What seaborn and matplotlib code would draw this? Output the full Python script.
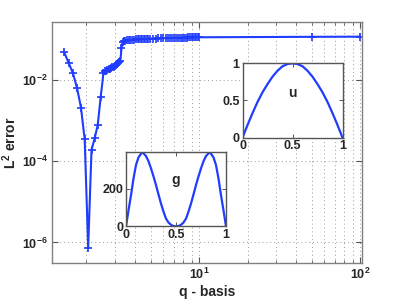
import numpy as np
import pandas as pd
import matplotlib
matplotlib.use("Agg")
import matplotlib.pyplot as plt
import matplotlib.ticker as mticker
import seaborn as sns

# main curve: L2 error against q
q_basis = [1.45, 1.55, 1.65, 1.75, 1.85, 1.95, 2.05, 2.15, 2.25, 2.35, 2.45,
           2.55, 2.60, 2.65, 2.70, 2.75, 2.80, 2.85, 2.90, 2.95, 3.00, 3.05,
           3.10, 3.15, 3.20, 3.25, 3.30, 3.35, 3.40,
           3.45, 3.55, 3.65, 3.75, 3.85, 3.95, 4.05, 4.15, 4.25, 4.35, 4.45,
           4.55, 4.65, 4.75, 4.85, 4.95,
           5.2, 5.4, 5.6, 5.8, 6.0, 6.2, 6.4, 6.6, 6.8, 7.0, 7.2, 7.4, 7.6,
           7.8, 8.0, 8.2, 8.4, 8.6, 8.8, 9.0, 9.2, 9.4, 9.6, 9.8, 10.0,
           50.0, 100.0]
l2_error = [0.0498, 0.0267, 0.0146, 0.00625, 0.00208, 3.5e-4, 7.4e-7, 1.9e-4,
            3.7e-4, 7.8e-4, 3.75e-3,
            0.0146, 0.0163, 0.0171, 0.0177, 0.0182, 0.0190, 0.0198, 0.0206,
            0.0215, 0.0226, 0.0237, 0.0249, 0.0262, 0.0280, 0.0300, 0.060,
            0.085, 0.090,
            0.093, 0.095, 0.096, 0.097, 0.098, 0.099, 0.100, 0.100, 0.101,
            0.101, 0.102, 0.102, 0.103, 0.103, 0.103, 0.104,
            0.104, 0.105, 0.106, 0.106, 0.107, 0.107, 0.108, 0.108, 0.109,
            0.109, 0.109, 0.110, 0.110, 0.110, 0.111, 0.111, 0.111, 0.112,
            0.112, 0.112, 0.112, 0.112, 0.113, 0.113, 0.113,
            0.116, 0.117]

# inset u
u_x = [0.0, 0.05, 0.1, 0.15, 0.2, 0.25, 0.3, 0.35, 0.4, 0.45, 0.5,
       0.55, 0.6, 0.65, 0.7, 0.75, 0.8, 0.85, 0.9, 0.95, 1.0]
u_val = [0.0, 0.17, 0.33, 0.48, 0.61, 0.72, 0.82, 0.90, 0.96, 0.99, 1.0,
         0.99, 0.96, 0.90, 0.82, 0.72, 0.61, 0.48, 0.33, 0.17, 0.0]

# inset g
g_x = [0.0, 0.025, 0.05, 0.075, 0.1, 0.125, 0.15, 0.165, 0.2, 0.225, 0.25,
       0.275, 0.3, 0.325, 0.35, 0.375, 0.4, 0.425, 0.45, 0.475, 0.5,
       0.525, 0.55, 0.575, 0.6, 0.625, 0.65, 0.675, 0.7, 0.725, 0.75,
       0.775, 0.8, 0.835, 0.85, 0.875, 0.9, 0.925, 0.95, 0.975, 1.0]
g_val = [0, 85, 166, 255, 327, 368, 387, 395, 375, 347, 309,
         266, 220, 170, 121, 78, 41, 20, 8, 1, 0,
         1, 8, 20, 41, 78, 121, 170, 220, 266, 309,
         347, 375, 395, 387, 368, 327, 255, 166, 85, 0]

BLUE = "#1f3cff"

sns.set_theme(style="ticks")
plt.rcParams.update({
    "font.family": ["Liberation Sans", "DejaVu Sans"],
    "font.weight": "bold",
    "font.size": 9,
    "mathtext.fontset": "custom",
    "mathtext.rm": "Liberation Sans:bold",
    "mathtext.it": "Liberation Sans:bold:italic",
    "mathtext.bf": "Liberation Sans:bold",
    "xtick.direction": "in",
    "ytick.direction": "in",
    "xtick.top": True,
    "ytick.right": True,
    "xtick.labelsize": 9,
    "ytick.labelsize": 9,
    "axes.linewidth": 1.0,
})

fig = plt.figure(figsize=(3.99, 3.0), dpi=100)
ax = fig.add_axes([0.1303, 0.1243, 0.776, 0.8023])

main_df = pd.DataFrame({"q": q_basis, "err": l2_error})
sns.lineplot(data=main_df, x="q", y="err", ax=ax, color=BLUE, linewidth=1.5,
             marker="+", markersize=6, markeredgewidth=1.2,
             markeredgecolor=BLUE, estimator=None, sort=False)
ax.set_xscale("log")
ax.set_yscale("log")
ax.set_xlim(1.222, 102.2)
ax.set_ylim(3.16e-7, 0.2685)

ax.yaxis.set_major_locator(mticker.FixedLocator([1e-6, 1e-4, 1e-2]))
ax.yaxis.set_minor_locator(mticker.NullLocator())
ax.xaxis.set_major_locator(mticker.FixedLocator([10, 100]))
ax.xaxis.set_minor_locator(mticker.LogLocator(base=10, subs=np.arange(2, 10)))
ax.xaxis.set_minor_formatter(mticker.NullFormatter())
ax.grid(True, which="both", axis="x", color="#9a9a9a", linestyle=(0, (1, 3)), linewidth=0.7)
ax.grid(True, which="major", axis="y", color="#9a9a9a", linestyle=(0, (1, 3)), linewidth=0.7)
ax.tick_params(which="major", length=4, width=0.8, color="#555555", pad=3)
ax.tick_params(which="minor", length=2, width=0.6, color="#555555")
for sp in ax.spines.values():
    sp.set_color("#808080")

ax.set_xlabel("q - basis", fontsize=10, fontweight="bold")
ax.set_ylabel("L$^2$ error", fontsize=10, fontweight="bold")
ax.xaxis.set_label_coords(0.5, -0.12)
ax.xaxis.label.set_va("center")
ax.yaxis.set_label_coords(-0.135, 0.5)
ax.yaxis.label.set_va("center")

# inset with g
axg = fig.add_axes([0.3158, 0.2457, 0.2506, 0.2467])
sns.lineplot(x=g_x, y=g_val, ax=axg, color=BLUE, linewidth=1.6)
axg.set_xlim(0, 1)
axg.set_ylim(0, 395)
axg.set_xticks([0, 0.5, 1])
axg.set_xticklabels(["0", "0.5", "1"])
axg.set_yticks([0, 200])
axg.text(0.5, 0.62, "g", transform=axg.transAxes, ha="center", va="center",
         fontsize=10, fontweight="bold")

# inset with u
axu = fig.add_axes([0.6078, 0.541, 0.2506, 0.248])
sns.lineplot(x=u_x, y=u_val, ax=axu, color=BLUE, linewidth=1.6)
axu.set_xlim(0, 1)
axu.set_ylim(0, 1)
axu.set_xticks([0, 0.5, 1])
axu.set_xticklabels(["0", "0.5", "1"])
axu.set_yticks([0, 0.5, 1])
axu.set_yticklabels(["0", "0.5", "1"])
axu.text(0.5, 0.6, "u", transform=axu.transAxes, ha="center", va="center",
         fontsize=10, fontweight="bold")

for a in (axg, axu):
    a.set_facecolor("white")
    a.set_xlabel("")
    a.set_ylabel("")
    a.tick_params(length=3, width=0.7, color="#555555", pad=2)
    for sp in a.spines.values():
        sp.set_color("#555555")
        sp.set_linewidth(1.0)

fig.savefig("out.png", dpi=100)
